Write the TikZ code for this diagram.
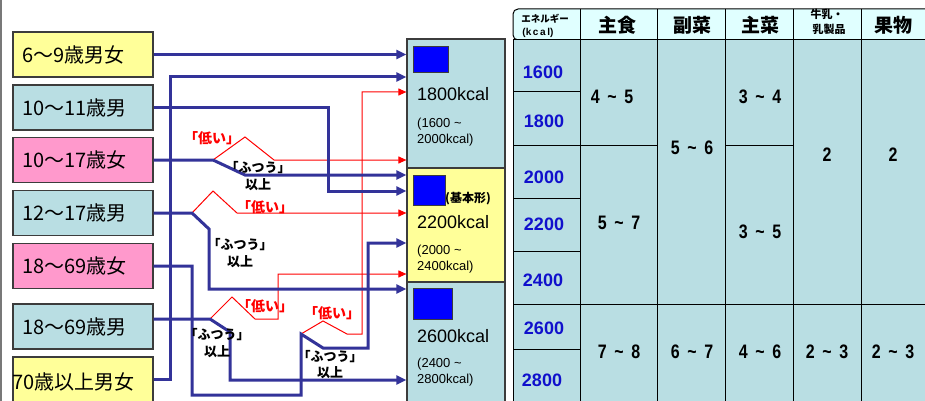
\documentclass[tikz,border=0pt]{standalone}
\usepackage{fontspec}
\setmainfont{Liberation Sans}
\newfontfamily\jp{Noto Sans CJK JP}
\newfontfamily\cond[FakeStretch=0.82]{Liberation Sans}
\usetikzlibrary{arrows.meta}
\definecolor{lineblue}{RGB}{51,51,153}
\definecolor{boxteal}{RGB}{185,222,227}
\definecolor{boxyel}{RGB}{255,255,153}
\definecolor{boxpink}{RGB}{255,153,204}
\definecolor{hdrcyan}{RGB}{224,255,255}
\definecolor{sqblue}{RGB}{0,0,255}
\definecolor{numblue}{RGB}{16,16,204}
\definecolor{boxline}{RGB}{60,60,60}
\definecolor{bordergray}{RGB}{120,120,120}
\newcommand{\tblcell}[4]{\draw[tcell] (#1,#2) rectangle (#3,#4);}
\begin{document}
\begin{tikzpicture}[x=1pt,y=-1pt,
  lbox/.style={draw=boxline, line width=1.2pt, minimum width=140pt, minimum height=45pt,
    inner sep=0pt, text width=122pt, align=left, font=\jp\fontsize{20}{24}\selectfont},
  mbox/.style={draw=boxline, line width=1.2pt, minimum width=98pt, inner sep=0pt},
  sq/.style={draw=boxline, line width=1pt, fill=sqblue, inner sep=0pt},
  kbig/.style={anchor=base west, inner sep=0pt, font=\fontsize{18}{20}\selectfont},
  ksmall/.style={anchor=base west, inner sep=0pt, font=\fontsize{13}{16}\selectfont},
  con/.style={draw=lineblue, line width=3pt, -{Triangle[length=10pt,width=9pt]}},
  rcon/.style={draw=red, line width=1pt, -{Triangle[length=8pt,width=7pt]}},
  lowlbl/.style={text=red, inner sep=0pt, font=\jp\bfseries\fontsize{14}{16}\selectfont},
  oklbl/.style={text=black, inner sep=0pt, font=\jp\bfseries\fontsize{13}{15}\selectfont},
  tcell/.style={draw=black, line width=1pt, fill=boxteal},
  enum/.style={text=numblue, inner sep=0pt, font=\bfseries\fontsize{18}{20}\selectfont},
  snum/.style={inner sep=0pt, font=\cond\bfseries\fontsize{19.5}{20}\selectfont},
  hdr/.style={inner sep=0pt, font=\jp\bfseries\fontsize{19}{21}\selectfont},
  hdrs/.style={inner sep=0pt, align=center, font=\jp\bfseries\fontsize{10}{13}\selectfont}
]
\useasboundingbox (0,0) rectangle (925,401);
\fill[white] (0,0) rectangle (925,401);
\draw[bordergray, line width=1.5pt] (1,0) -- (1,401);

% ---------- table ----------
\draw[black, line width=1pt, fill=hdrcyan, rounded corners=5pt] (513,9) rectangle (940,40);
\foreach \xx in {580,657,725,793,861} \draw[black, line width=1pt] (\xx,9) -- (\xx,40);
\tblcell{513}{40}{580}{92}
\tblcell{513}{92}{580}{145}
\tblcell{513}{145}{580}{198}
\tblcell{513}{198}{580}{251}
\tblcell{513}{251}{580}{304}
\tblcell{513}{304}{580}{349}
\tblcell{513}{349}{580}{410}
\tblcell{580}{40}{657}{145}
\tblcell{580}{145}{657}{304}
\tblcell{580}{304}{657}{410}
\tblcell{657}{40}{725}{304}
\tblcell{657}{304}{725}{410}
\tblcell{725}{40}{793}{145}
\tblcell{725}{145}{793}{304}
\tblcell{725}{304}{793}{410}
\tblcell{793}{40}{861}{304}
\tblcell{793}{304}{861}{410}
\tblcell{861}{40}{940}{304}
\tblcell{861}{304}{940}{410}

\node[hdrs, font=\jp\bfseries\fontsize{9.5}{11}\selectfont] (h0a) at (545,19) {エネルギー};
\node[hdrs, font=\bfseries\fontsize{10}{11}\selectfont] (h0b) at (538,33) {(k\,c\,a\,l)};
\node[hdr] (h1) at (617,25) {主食};
\node[hdr] (h2) at (692,25) {副菜};
\node[hdr] (h3) at (760,25) {主菜};
\node[hdrs, font=\jp\bfseries\fontsize{11}{12}\selectfont] (h4a) at (827,14) {牛乳・};
\node[hdrs, font=\jp\bfseries\fontsize{11}{12}\selectfont] (h4b) at (829,29) {乳製品};
\node[hdr] (h5) at (893,25) {果物};

\node[enum] (e1) at (543,72) {1600};
\node[enum] (e2) at (544,121) {1800};
\node[enum] (e3) at (544,177) {2000};
\node[enum] (e4) at (544,224) {2200};
\node[enum] (e5) at (543,280) {2400};
\node[enum] (e6) at (544,328) {2600};
\node[enum] (e7) at (542,380) {2800};

\node[snum] (n1) at (612,97) {4 \,\textasciitilde\, 5};
\node[snum] (n2) at (619,223) {5 \,\textasciitilde\, 7};
\node[snum] (n3) at (619,352) {7 \,\textasciitilde\, 8};
\node[snum] (n4) at (692,148) {5 \,\textasciitilde\, 6};
\node[snum] (n5) at (692,352) {6 \,\textasciitilde\, 7};
\node[snum] (n6) at (760,97) {3 \,\textasciitilde\, 4};
\node[snum] (n7) at (760,232) {3 \,\textasciitilde\, 5};
\node[snum] (n8) at (760,352) {4 \,\textasciitilde\, 6};
\node[snum] (n9) at (827,155) {2};
\node[snum] (n10) at (827,352) {2 \,\textasciitilde\, 3};
\node[snum] (n11) at (893,155) {2};
\node[snum] (n12) at (893,352) {2 \,\textasciitilde\, 3};

% ---------- middle boxes ----------
\node[mbox, fill=boxteal, minimum height=129pt] (m1) at (456,103.5) {};
\node[mbox, fill=boxyel, minimum height=114pt] (m2) at (456,225) {};
\node[mbox, fill=boxteal, minimum height=128pt] (m3) at (456,346) {};
\node[sq, minimum width=35pt, minimum height=26pt] (s1) at (430.5,60) {};
\node[sq, minimum width=32pt, minimum height=30pt] (s2) at (429,190) {};
\node[sq, minimum width=39pt, minimum height=31pt] (s3) at (432.5,303.5) {};
\node[anchor=base west, inner sep=0pt, font=\jp\bfseries\fontsize{12}{14}\selectfont] (kihon) at (445,202) {(基本形)};
\node[kbig] (k1) at (417,100) {1800kcal};
\node[ksmall] (r1a) at (417,127) {(1600 \textasciitilde};
\node[ksmall] (r1b) at (417,143) {2000kcal)};
\node[kbig] (k2) at (417,228) {2200kcal};
\node[ksmall] (r2a) at (417,254) {(2000 \textasciitilde};
\node[ksmall] (r2b) at (417,270) {2400kcal)};
\node[kbig] (k3) at (417,342) {2600kcal};
\node[ksmall] (r3a) at (417,367) {(2400 \textasciitilde};
\node[ksmall] (r3b) at (417,383) {2800kcal)};

% ---------- left boxes ----------
\node[lbox, fill=boxyel] (b1) at (83,54.5) {6～9歳男女};
\node[lbox, fill=boxteal] (b2) at (83,107.5) {10～11歳男};
\node[lbox, fill=boxpink] (b3) at (83,160) {10～17歳女};
\node[lbox, fill=boxteal] (b4) at (83,213) {12～17歳男};
\node[lbox, fill=boxpink] (b5) at (83,266) {18～69歳女};
\node[lbox, fill=boxteal, minimum height=45pt] (b6) at (83,326.5) {18～69歳男};
\node[lbox, fill=boxyel, minimum height=53pt] (b7) at (83,383.5) {};
\node[anchor=west, inner sep=0pt, font=\jp\fontsize{20}{24}\selectfont] (t7) at (12.5,382) {70歳以上男女};

% ---------- junctions ----------
\coordinate (j3) at (213,160);
\coordinate (j4) at (192,213);
\coordinate (j5) at (301,334);
\coordinate (j6) at (210,319);

% ---------- red connectors ----------
\draw[rcon] (j3) -- (245,137) -- (274,160) -- (m1.west |- 0,160);
\draw[rcon] (j4) -- (213,191) -- (237,213) -- (m2.west |- 0,213);
\draw[rcon] (j5) -- (323,321) -- (347,334) -| (362,92) -- (m1.west |- 0,92);
\draw[rcon] (j6) -- (232,297) -- (255,319) -| (278,274) -- (m2.west |- 0,274);

% ---------- blue connectors ----------
\draw[con] (b1.east) -- (b1.east -| m1.west);
\draw[con] (b7.east |- 0,379) -| (170,77) -- (m1.west |- 0,77);
\draw[con] (b2.east) -| (328,191) -- (m2.west |- 0,191);
\draw[con] (b3.east) -- (j3) -- (245,175) -- (m2.west |- 0,175);
\draw[con] (b4.east) -- (j4) -- (209,229) -- (209,289) -- (m3.west |- 0,289);
\draw[con] (b5.east) -| (192,395) -| (j5) -- (323,348) -| (368,243) -- (m2.west |- 0,243);
\draw[con] (b6.east |- 0,319) -- (j6) -- (230,332) -- (230,380) -- (m3.west |- 0,380);

% ---------- labels ----------
\node[lowlbl] (l3a) at (212,138) {｢低い｣};
\node[oklbl] (l3b) at (258,168) {｢ふつう｣};
\node[oklbl] (l3c) at (258,185) {以上};
\node[lowlbl] (l4a) at (265,207) {｢低い｣};
\node[oklbl] (l4b) at (240,245) {｢ふつう｣};
\node[oklbl] (l4c) at (240,262) {以上};
\node[lowlbl] (l6a) at (265,306) {｢低い｣};
\node[oklbl] (l6b) at (217,335) {｢ふつう｣};
\node[oklbl] (l6c) at (217,352) {以上};
\node[lowlbl] (l5a) at (332,313) {｢低い｣};
\node[oklbl] (l5b) at (330,357) {｢ふつう｣};
\node[oklbl] (l5c) at (330,373) {以上};
\end{tikzpicture}
\end{document}
